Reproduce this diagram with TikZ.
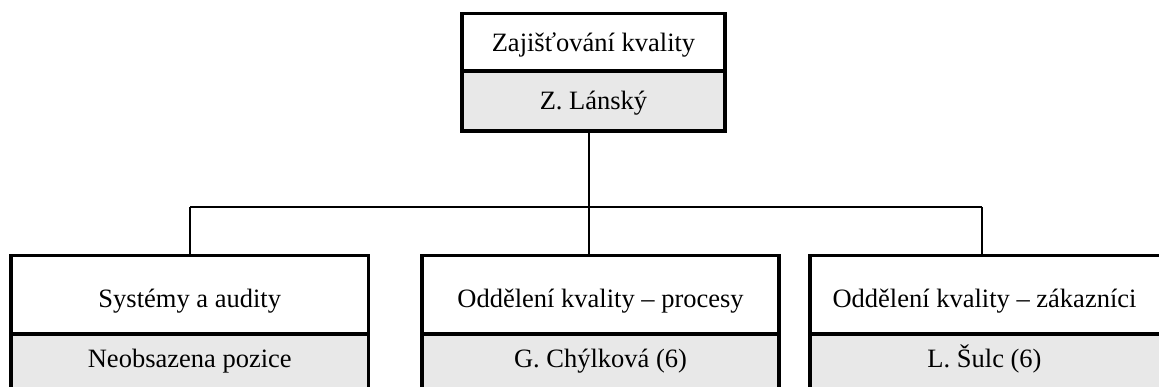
\documentclass[tikz,border=0pt]{standalone}
\usepackage{fontspec}
\setmainfont{Liberation Serif}
\definecolor{cellgray}{HTML}{E8E8E8}
\begin{document}
\begin{tikzpicture}[x=1pt,y=-1pt,
  cell/.style={draw, line width=3.5pt, inner sep=0pt, outer sep=0pt, anchor=north west},
  headcell/.style={cell, fill=white},
  namecell/.style={cell, fill=cellgray},
  lbl/.style={anchor=base, inner sep=0pt, font=\fontsize{26.5}{30}\selectfont},
  conn/.style={draw, line width=1.3pt}]
\useasboundingbox (0,0) rectangle (1159,387);
\clip (0,0) rectangle (1159,387);

% junction points of the connector bus
\coordinate (jL) at (190,207);
\coordinate (jM) at (589,207);
\coordinate (jR) at (982,207);

% top unit
\node[headcell, minimum width=263, minimum height=57.5] (topT) at (462,13.5) {};
\node[namecell, minimum width=263, minimum height=60] (topP) at (462,71) {};

% three departments
\node[headcell, minimum width=357.5, minimum height=78.5] (sysT) at (11,255.5) {};
\node[namecell, minimum width=357.5, minimum height=70] (sysP) at (11,334) {};
\node[headcell, minimum width=357, minimum height=78.5] (procT) at (422,255.5) {};
\node[namecell, minimum width=357, minimum height=70] (procP) at (422,334) {};
\node[headcell, minimum width=357, minimum height=78.5] (zakT) at (810,255.5) {};
\node[namecell, minimum width=357, minimum height=70] (zakP) at (810,334) {};

% connectors
\draw[conn] (topP.south -| jM) -- (jM);
\draw[conn] (jL) -- (jR);
\draw[conn] (jL) -- (jL |- sysT.north);
\draw[conn] (jM) -- (jM |- procT.north);
\draw[conn] (jR) -- (jR |- zakT.north);

% redraw the boxes on top of the connector ends
\node[headcell, minimum width=263, minimum height=57.5] at (462,13.5) {};
\node[namecell, minimum width=263, minimum height=60] at (462,71) {};
\node[headcell, minimum width=357.5, minimum height=78.5] at (11,255.5) {};
\node[headcell, minimum width=357, minimum height=78.5] at (422,255.5) {};
\node[headcell, minimum width=357, minimum height=78.5] at (810,255.5) {};
\node[namecell, minimum width=357.5, minimum height=70] at (11,334) {};
\node[namecell, minimum width=357, minimum height=70] at (422,334) {};
\node[namecell, minimum width=357, minimum height=70] at (810,334) {};

% labels
\node[lbl] (tTop) at (topT.center |- 0,52) {Zajišťování kvality};
\node[lbl] (pTop) at (topP.center |- 0,110) {Z. Lánský};
\node[lbl] (tSys) at (sysT.center |- 0,308) {Systémy a audity};
\node[lbl] (pSys) at (sysP.north |- 0,367) {Neobsazena pozice};
\node[lbl] (tProc) at (procT.center |- 0,308) {Oddělení kvality – procesy};
\node[lbl] (pProc) at (procP.north |- 0,367) {G. Chýlková (6)};
\node[lbl] (tZak) at ([xshift=-4pt]zakT.center |- 0,308) {Oddělení kvality – zákazníci};
\node[lbl] (pZak) at ([xshift=-4pt]zakP.north |- 0,367) {L. Šulc (6)};
\end{tikzpicture}
\end{document}
